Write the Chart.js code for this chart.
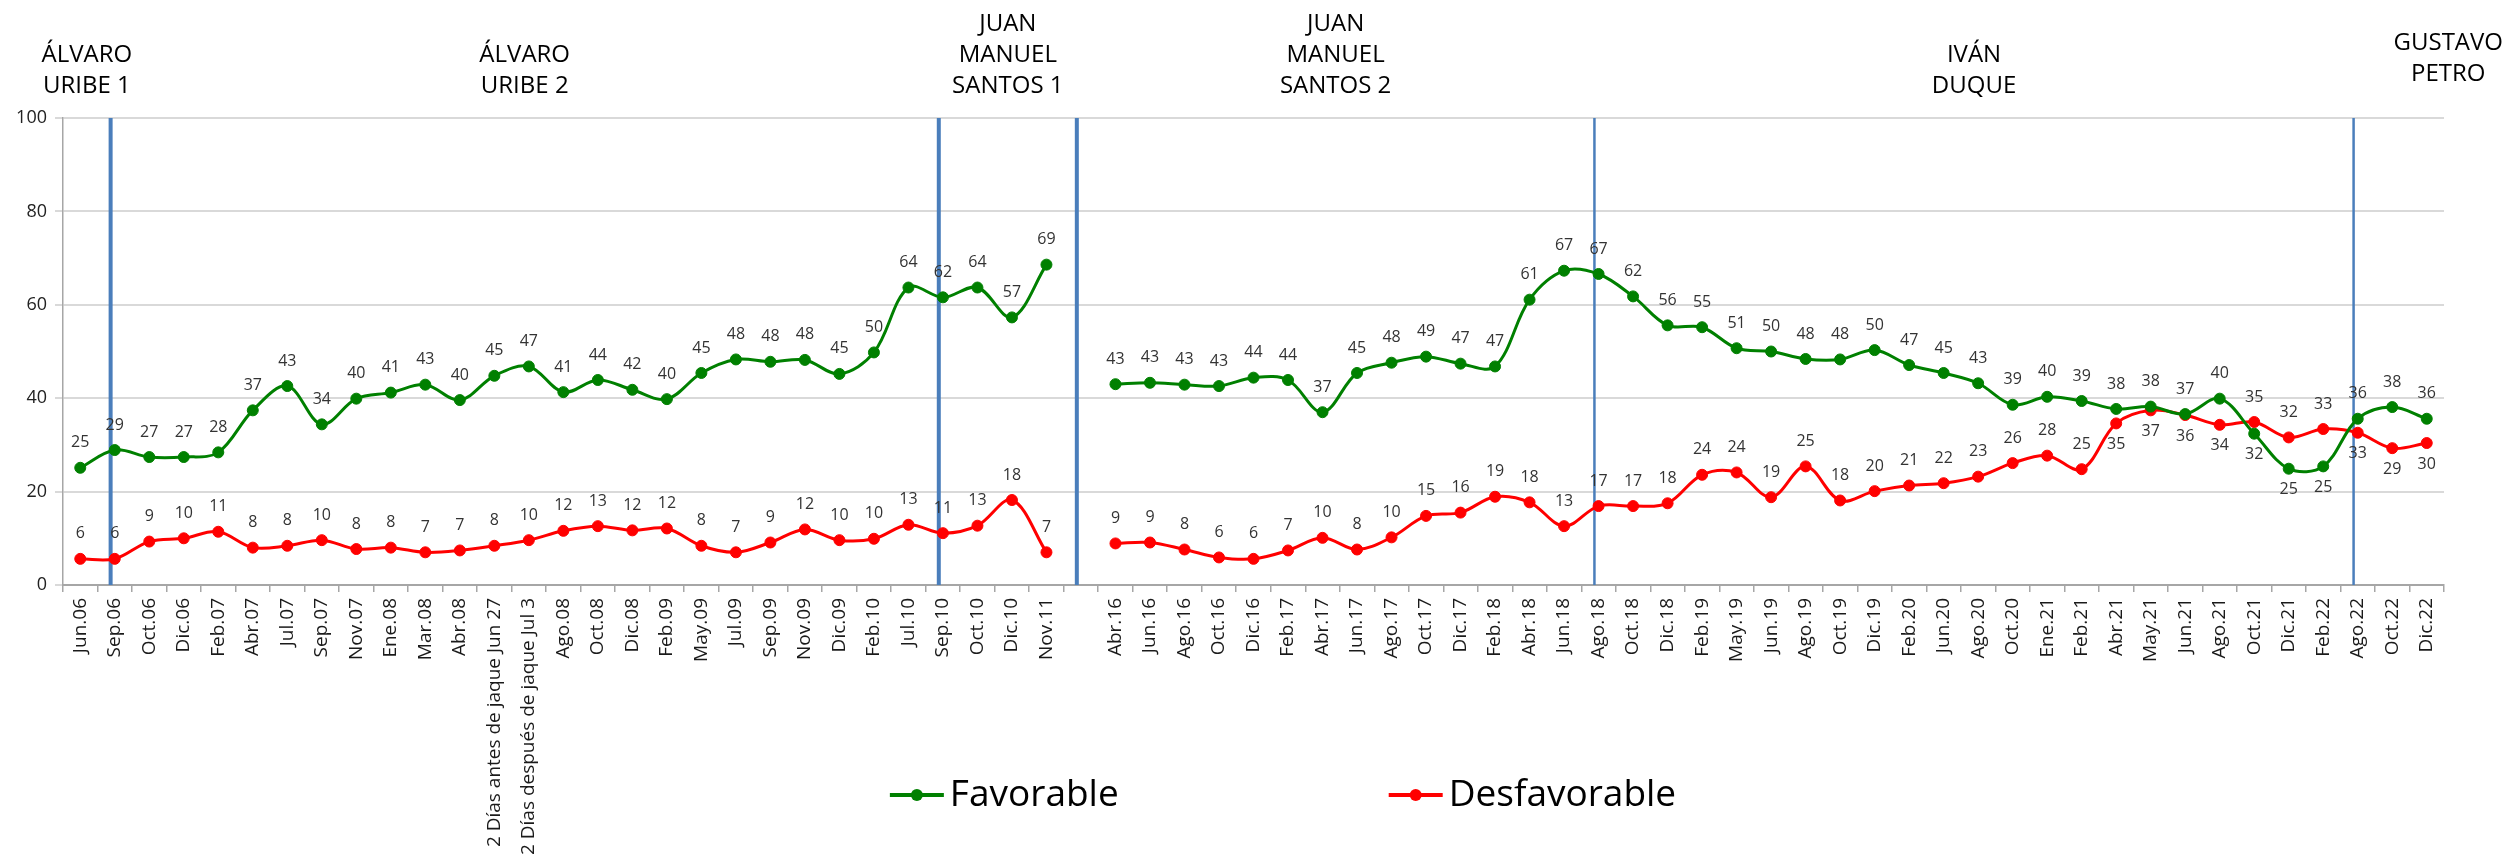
<!DOCTYPE html>
<html lang="es">
<head>
<meta charset="utf-8">
<title>Imagen del presidente</title>
<script src="https://cdn.jsdelivr.net/npm/chart.js@4.4.1/dist/chart.umd.min.js"></script>
<style>
    html, body { margin: 0; padding: 0; background: #fff; }
    #contenedor { width: 2509px; height: 857px; }
</style>
</head>
<body>
<div id="contenedor"><canvas id="grafico"></canvas></div>
<script>
// Categorías (fechas de medición) por tramo
const fechasUribeSantos1 = ["Jun.06", "Sep.06", "Oct.06", "Dic.06", "Feb.07", "Abr.07", "Jul.07", "Sep.07",
    "Nov.07", "Ene.08", "Mar.08", "Abr.08", "2 Días antes de jaque Jun 27", "2 Días después de jaque Jul 3",
    "Ago.08", "Oct.08", "Dic.08", "Feb.09", "May.09", "Jul.09", "Sep.09", "Nov.09", "Dic.09", "Feb.10",
    "Jul.10", "Sep.10", "Oct.10", "Dic.10", "Nov.11"];
const fechasSantos2Petro = ["Abr.16", "Jun.16", "Ago.16", "Oct.16", "Dic.16", "Feb.17", "Abr.17", "Jun.17",
    "Ago.17", "Oct.17", "Dic.17", "Feb.18", "Abr.18", "Jun.18", "Ago.18", "Oct.18", "Dic.18", "Feb.19",
    "May.19", "Jun.19", "Ago.19", "Oct.19", "Dic.19", "Feb.20", "Jun.20", "Ago.20", "Oct.20", "Ene.21",
    "Feb.21", "Abr.21", "May.21", "Jun.21", "Ago.21", "Oct.21", "Dic.21", "Feb.22", "Ago.22", "Oct.22", "Dic.22"];

// Valores (%)
const favorable1 = [25.1, 28.9, 27.4, 27.4, 28.4, 37.4, 42.6, 34.4, 39.9, 41.2, 42.9, 39.6, 44.8, 46.8,
    41.3, 43.9, 41.8, 39.8, 45.4, 48.3, 47.8, 48.2, 45.2, 49.8, 63.7, 61.6, 63.7, 57.3, 68.6];
const desfavorable1 = [5.6, 5.6, 9.3, 10.0, 11.4, 8.0, 8.4, 9.6, 7.7, 8.0, 7.0, 7.4, 8.4, 9.6,
    11.6, 12.6, 11.7, 12.1, 8.4, 7.0, 9.1, 11.9, 9.6, 9.9, 12.9, 11.1, 12.7, 18.2, 7.0];
const favorable2 = [43.0, 43.3, 42.9, 42.6, 44.4, 43.9, 37.0, 45.4, 47.6, 48.9, 47.4, 46.8, 61.1, 67.3,
    66.6, 61.8, 55.6, 55.2, 50.7, 50.0, 48.4, 48.3, 50.3, 47.1, 45.4, 43.2, 38.6, 40.3, 39.4, 37.7,
    38.2, 36.6, 39.9, 32.4, 24.9, 25.4, 35.6, 38.1, 35.6];
const desfavorable2 = [8.9, 9.1, 7.6, 5.9, 5.6, 7.4, 10.1, 7.6, 10.2, 14.8, 15.5, 18.9, 17.7, 12.6,
    16.9, 16.9, 17.5, 23.6, 24.1, 18.8, 25.4, 18.1, 20.1, 21.3, 21.8, 23.2, 26.1, 27.7, 24.8, 34.6,
    37.4, 36.4, 34.3, 34.9, 31.6, 33.4, 32.6, 29.3, 30.4];

// Etiquetas que van debajo del punto
const favorableAbajo = ["Oct.21", "Dic.21", "Feb.22"];
const desfavorableAbajo = ["Abr.21", "May.21", "Jun.21", "Ago.21", "Ago.22", "Oct.22", "Dic.22"];

// Periodos presidenciales (fecha donde empieza cada uno; "" = hueco sin datos)
const periodos = [
    { nombre: ["ÁLVARO", "URIBE 1"], inicio: "Jun.06" },
    { nombre: ["ÁLVARO", "URIBE 2"], inicio: "Sep.06" },
    { nombre: ["JUAN", "MANUEL", "SANTOS 1"], inicio: "Sep.10" },
    { nombre: ["JUAN", "MANUEL", "SANTOS 2"], inicio: "" },
    { nombre: ["IVÁN", "DUQUE"], inicio: "Ago.18" },
    { nombre: ["GUSTAVO", "PETRO"], inicio: "Ago.22" },
];

const categorias = [...fechasUribeSantos1, "", ...fechasSantos2Petro];
const serieFavorable = [...favorable1, null, ...favorable2];
const serieDesfavorable = [...desfavorable1, null, ...desfavorable2];

const FUENTE = '"Open Sans", "Noto Sans", sans-serif';

// Posición x de la línea que separa cada periodo
function xLinea(chart, p) {
    const xs = chart.scales.x;
    if (p === 0) return chart.chartArea.left;
    const idx = categorias.indexOf(periodos[p].inicio);
    const ancho = (chart.chartArea.right - chart.chartArea.left) / categorias.length;
    return xs.getPixelForValue(idx) - 0.12 * ancho;
}

// Líneas verticales y nombres de los presidentes
const pluginPeriodos = {
    id: "periodos",
    beforeDatasetsDraw(chart) {
        const ctx = chart.ctx;
        const { top, bottom } = chart.chartArea;
        const grosores = [0, 4, 4, 4, 2.5, 2.5];
        ctx.save();
        ctx.strokeStyle = "#4a7ebb";
        for (let p = 1; p < periodos.length; p++) {
            const x = xLinea(chart, p);
            ctx.lineWidth = grosores[p];
            ctx.beginPath();
            ctx.moveTo(x, top);
            ctx.lineTo(x, bottom);
            ctx.stroke();
        }
        ctx.restore();
    },
    afterDraw(chart) {
        const ctx = chart.ctx;
        // el último nombre queda un poco más arriba
        const subir = [0, 0, 0, 0, 0, 12];
        ctx.save();
        ctx.font = "24px " + FUENTE;
        ctx.fillStyle = "#000";
        ctx.textAlign = "center";
        ctx.textBaseline = "middle";
        periodos.forEach((per, p) => {
            const x0 = xLinea(chart, p);
            const x1 = p < periodos.length - 1 ? xLinea(chart, p + 1) : chart.chartArea.right;
            let cx = (x0 + x1) / 2;
            if (p === periodos.length - 1) {
                const maxAncho = Math.max(...per.nombre.map(t => ctx.measureText(t).width));
                cx = chart.width - 6 - maxAncho / 2;
            }
            const n = per.nombre.length;
            per.nombre.forEach((linea, i) => {
                ctx.fillText(linea, cx, 86 - subir[p] - (n - 1 - i) * 31);
            });
        });
        ctx.restore();
    },
};

// Valores encima / debajo de cada punto
const pluginEtiquetas = {
    id: "etiquetasDatos",
    afterDatasetsDraw(chart) {
        const ctx = chart.ctx;
        ctx.save();
        ctx.font = "16px " + FUENTE;
        ctx.fillStyle = "#333";
        ctx.textAlign = "center";
        ctx.textBaseline = "middle";
        chart.data.datasets.forEach((ds, d) => {
            const meta = chart.getDatasetMeta(d);
            meta.data.forEach((pt, i) => {
                const v = ds.data[i];
                if (v === null) return;
                const abajo = ds.etiquetasAbajo.includes(categorias[i]);
                ctx.fillText(Math.round(v), pt.x, abajo ? pt.y + 21 : pt.y - 25);
            });
        });
        ctx.restore();
    },
};

// Leyenda propia (línea con punto + texto)
const pluginLeyenda = {
    id: "leyendaPropia",
    afterDraw(chart) {
        const ctx = chart.ctx;
        const y = 795;
        const centro = 1283;
        const separacion = 270;
        ctx.save();
        ctx.font = "37px " + FUENTE;
        const items = chart.data.datasets.map(ds => ({
            ds: ds,
            ancho: 60 + ctx.measureText(ds.label).width,
        }));
        const total = items.reduce((s, it) => s + it.ancho, 0) + separacion * (items.length - 1);
        let x = centro - total / 2;
        items.forEach(it => {
            ctx.strokeStyle = it.ds.borderColor;
            ctx.lineWidth = 4;
            ctx.beginPath();
            ctx.moveTo(x, y);
            ctx.lineTo(x + 54, y);
            ctx.stroke();
            ctx.fillStyle = it.ds.borderColor;
            ctx.beginPath();
            ctx.arc(x + 27, y, 6, 0, Math.PI * 2);
            ctx.fill();
            ctx.fillStyle = "#000";
            ctx.textAlign = "left";
            ctx.textBaseline = "middle";
            ctx.fillText(it.ds.label, x + 60, y);
            x += it.ancho + separacion;
        });
        ctx.restore();
    },
};

function inicializarGrafico() {
    const ctx = document.getElementById("grafico").getContext("2d");
    new Chart(ctx, {
        type: "line",
        data: {
            labels: categorias,
            datasets: [
                {
                    label: "Favorable",
                    data: serieFavorable,
                    borderColor: "#008000",
                    backgroundColor: "#008000",
                    pointBackgroundColor: "#008000",
                    pointBorderColor: "#008000",
                    etiquetasAbajo: favorableAbajo,
                },
                {
                    label: "Desfavorable",
                    data: serieDesfavorable,
                    borderColor: "#ff0000",
                    backgroundColor: "#ff0000",
                    pointBackgroundColor: "#ff0000",
                    pointBorderColor: "#ff0000",
                    etiquetasAbajo: desfavorableAbajo,
                },
            ],
        },
        options: {
            responsive: true,
            maintainAspectRatio: false,
            devicePixelRatio: 1,
            animation: false,
            layout: { padding: { top: 118, right: 65, left: 0, bottom: 0 } },
            elements: {
                line: { borderWidth: 3, tension: 0.35, fill: false },
                point: { radius: 5.5, hoverRadius: 5.5, borderWidth: 1 },
            },
            plugins: {
                legend: { display: false },
                tooltip: { enabled: false },
            },
            scales: {
                x: {
                    offset: true,
                    grid: {
                        display: true,
                        drawOnChartArea: false,
                        drawTicks: true,
                        tickLength: 7,
                        offset: true,
                        color: "#a6a6a6",
                        lineWidth: 1.5,
                    },
                    border: { display: true, color: "#a6a6a6", width: 2 },
                    ticks: {
                        autoSkip: false,
                        maxRotation: 90,
                        minRotation: 90,
                        padding: 6,
                        color: "#1a1a1a",
                        font: { family: FUENTE, size: 19 },
                    },
                    afterFit: (escala) => { escala.height = 272; },
                },
                y: {
                    min: 0,
                    max: 100,
                    ticks: {
                        stepSize: 20,
                        padding: 8,
                        color: "#222",
                        font: { family: FUENTE, size: 18 },
                    },
                    grid: { color: "#d9d9d9", lineWidth: 2, tickLength: 8, drawTicks: true },
                    border: { color: "#a6a6a6", width: 1.5 },
                    afterFit: (escala) => { escala.width = 63; },
                },
            },
        },
        plugins: [pluginPeriodos, pluginEtiquetas, pluginLeyenda],
    });
}

window.onload = inicializarGrafico;
</script>
</body>
</html>
